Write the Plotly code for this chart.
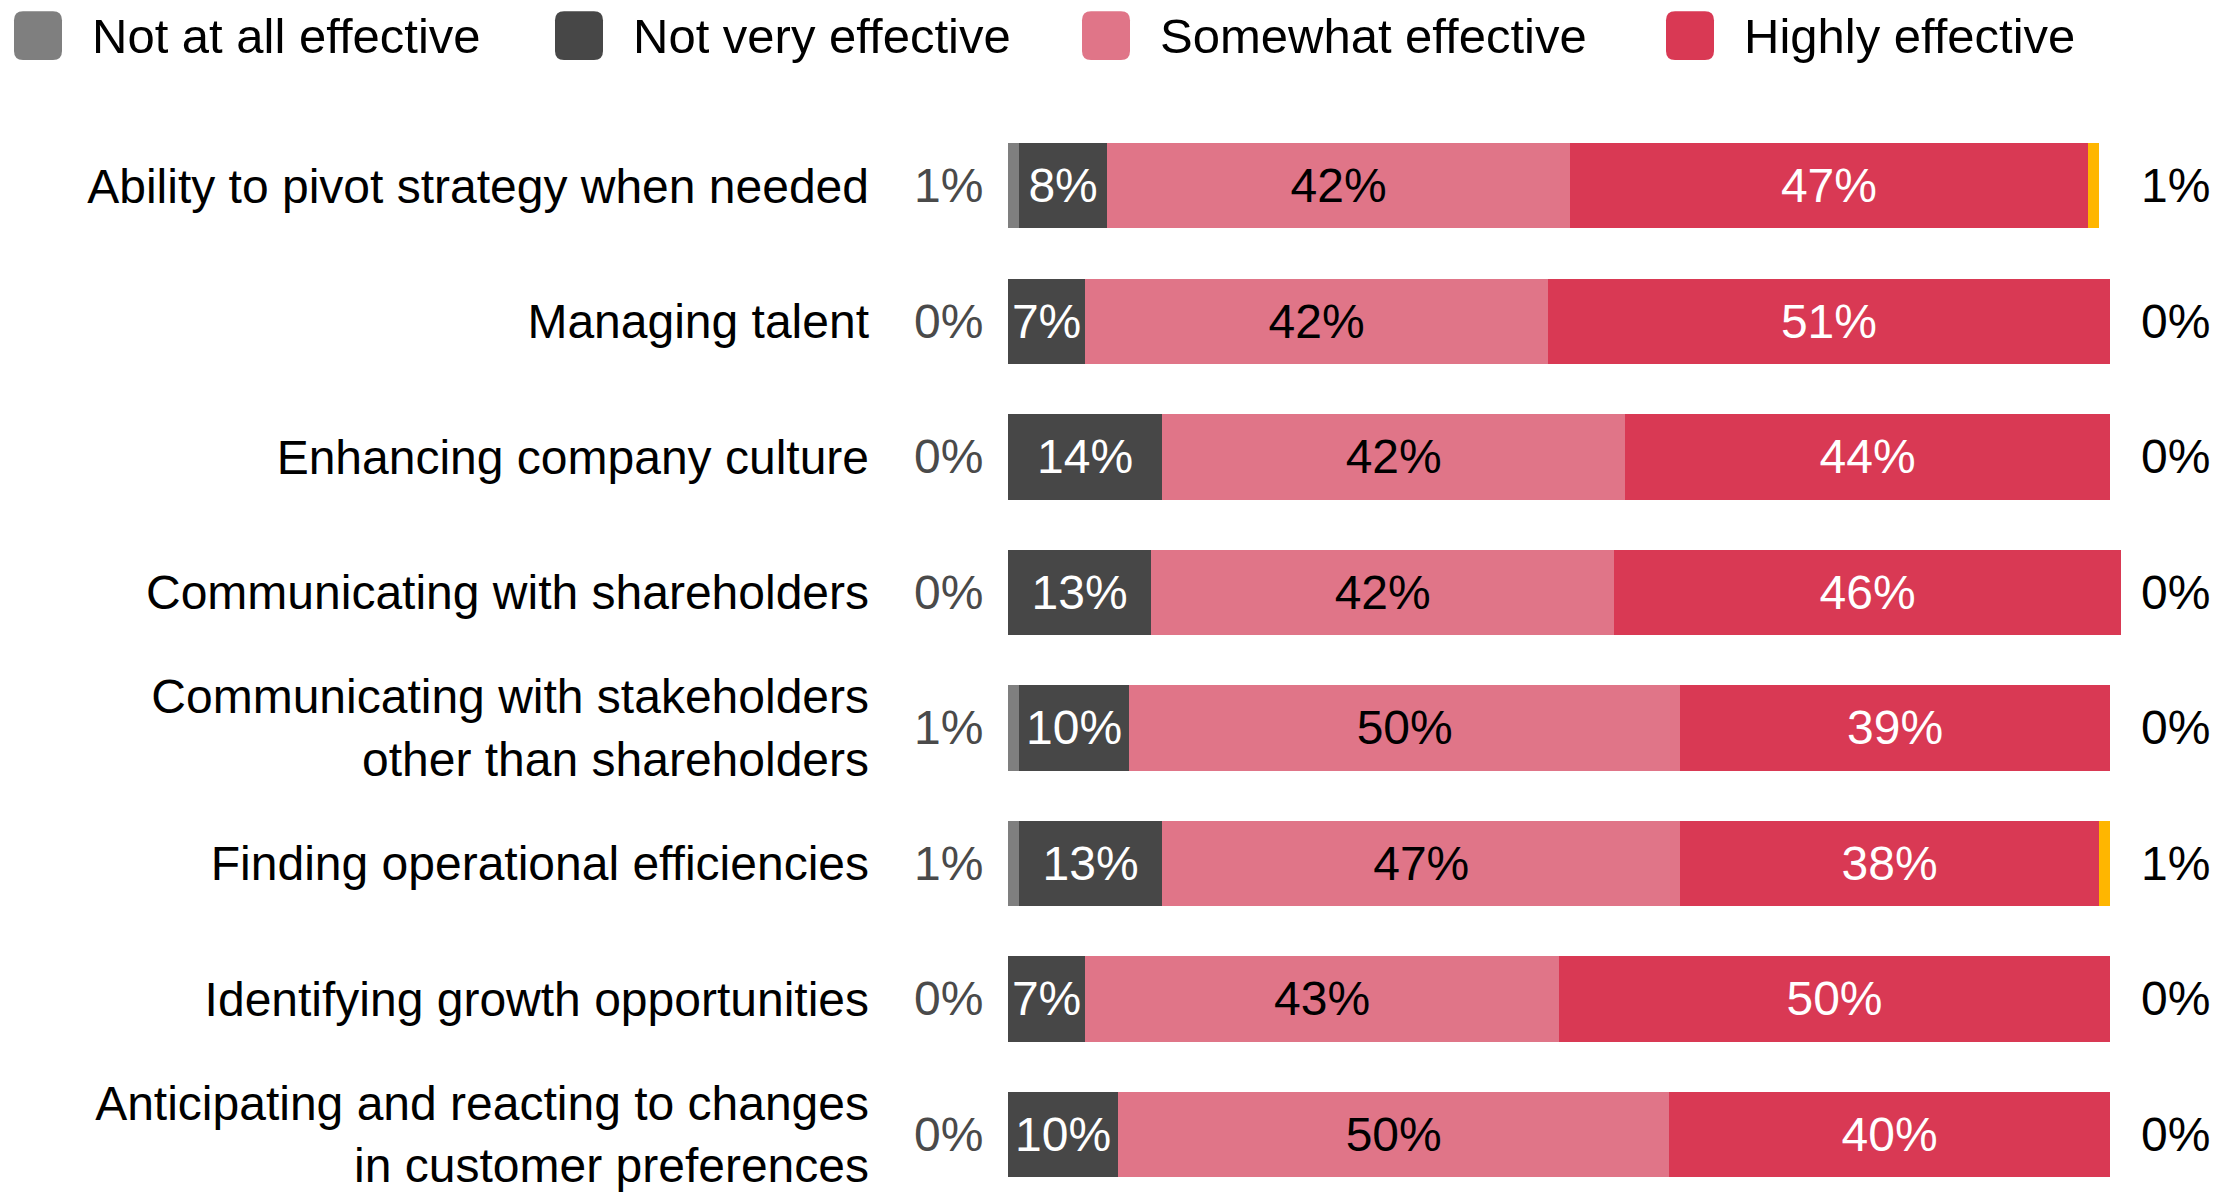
import plotly.graph_objects as go

# Survey results: share of respondents rating each capability
categories = [
    "Ability to pivot strategy when needed",
    "Managing talent",
    "Enhancing company culture",
    "Communicating with shareholders",
    "Communicating with stakeholders<br>other than shareholders",
    "Finding operational efficiencies",
    "Identifying growth opportunities",
    "Anticipating and reacting to changes<br>in customer preferences",
]
not_at_all = [1, 0, 0, 0, 1, 1, 0, 0]
not_very = [8, 7, 14, 13, 10, 13, 7, 10]
somewhat = [42, 42, 42, 42, 50, 47, 43, 50]
highly = [47, 51, 44, 46, 39, 38, 50, 40]
dont_know = [1, 0, 0, 0, 0, 1, 0, 0]

legend_names = ["Not at all effective", "Not very effective", "Somewhat effective", "Highly effective"]
colors = {
    "Not at all effective": "#7f7f7f",
    "Not very effective": "#474747",
    "Somewhat effective": "#e07588",
    "Highly effective": "#d93954",
    "Don't know": "#ffb600",
}

W_PX, H_PX = 2232, 1192
L, T = 1008, 118
PW, PH = 1124, 1074
FONT = "Liberation Sans, Arial, Helvetica, sans-serif"


def paper_x(px):
    return (px - L) / PW


def paper_y(py):
    return 1 - (py - T) / PH


def labels(vals):
    return [f"{v}%" if v > 0 else "" for v in vals]


fig = go.Figure()
series = [
    ("Not at all effective", not_at_all, None, "#ffffff"),
    ("Not very effective", not_very, labels(not_very), "#ffffff"),
    ("Somewhat effective", somewhat, labels(somewhat), "#000000"),
    ("Highly effective", highly, labels(highly), "#ffffff"),
    ("Don't know", dont_know, None, "#000000"),
]
for name, vals, txt, tcol in series:
    fig.add_trace(go.Bar(
        y=categories, x=vals, name=name, orientation="h",
        marker=dict(color=colors[name], line=dict(width=0)),
        text=txt, textposition="inside" if txt else "none",
        insidetextanchor="middle", textangle=0,
        textfont=dict(color=tcol, size=48, family=FONT),
        showlegend=False,
    ))

# Outside value labels: "not at all" on the left, "don't know" on the right
annotations = []
for cat, v in zip(categories, not_at_all):
    annotations.append(dict(
        x=paper_x(948), xref="paper", y=cat, yref="y", text=f"{v}%",
        showarrow=False, xanchor="center", yanchor="middle",
        font=dict(size=48, color="#4a4a4a", family=FONT),
    ))
for cat, v in zip(categories, dont_know):
    annotations.append(dict(
        x=paper_x(2175), xref="paper", y=cat, yref="y", text=f"{v}%",
        showarrow=False, xanchor="center", yanchor="middle",
        font=dict(size=48, color="#000000", family=FONT),
    ))

# Custom legend with rounded swatches
shapes = []
swatch_left = [14, 555, 1082, 1666]
sw, sy0, sy1, r = 48, 11, 60, 9
for name, x0 in zip(legend_names, swatch_left):
    x1 = x0 + sw
    path = (
        f"M {paper_x(x0 + r)} {paper_y(sy0)} L {paper_x(x1 - r)} {paper_y(sy0)} "
        f"Q {paper_x(x1)} {paper_y(sy0)} {paper_x(x1)} {paper_y(sy0 + r)} "
        f"L {paper_x(x1)} {paper_y(sy1 - r)} "
        f"Q {paper_x(x1)} {paper_y(sy1)} {paper_x(x1 - r)} {paper_y(sy1)} "
        f"L {paper_x(x0 + r)} {paper_y(sy1)} "
        f"Q {paper_x(x0)} {paper_y(sy1)} {paper_x(x0)} {paper_y(sy1 - r)} "
        f"L {paper_x(x0)} {paper_y(sy0 + r)} "
        f"Q {paper_x(x0)} {paper_y(sy0)} {paper_x(x0 + r)} {paper_y(sy0)} Z"
    )
    shapes.append(dict(type="path", path=path, xref="paper", yref="paper",
                       fillcolor=colors[name], line=dict(width=0), layer="above"))
    annotations.append(dict(
        x=paper_x(x1 + 28), xref="paper", y=paper_y(36), yref="paper",
        text=name, showarrow=False, xanchor="left", yanchor="middle",
        font=dict(size=49, color="#000000", family=FONT),
    ))

fig.update_layout(
    barmode="stack",
    bargap=0.37,
    width=W_PX, height=H_PX,
    margin=dict(l=L, r=W_PX - L - PW, t=T, b=H_PX - T - PH, pad=0),
    paper_bgcolor="#ffffff", plot_bgcolor="#ffffff",
    font=dict(family=FONT, size=48, color="#000000"),
    uniformtext=dict(minsize=48, mode="show"),
    xaxis=dict(range=[0, 102], visible=False, fixedrange=True),
    yaxis=dict(
        type="category", categoryorder="array", categoryarray=categories,
        range=[7.41, -0.5], showgrid=False, zeroline=False, showline=False,
        ticks="", ticklabelstandoff=138,
        tickfont=dict(size=48, color="#000000", family=FONT),
    ),
    shapes=shapes,
    annotations=annotations,
)

fig.write_html("out.html")
